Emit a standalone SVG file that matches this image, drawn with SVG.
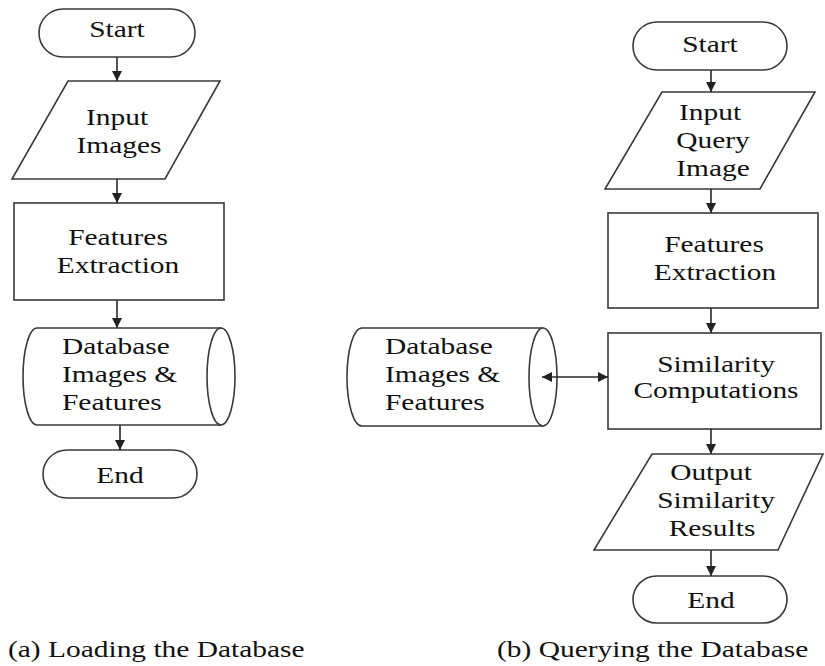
<svg xmlns="http://www.w3.org/2000/svg" width="825" height="666" viewBox="0 0 825 666">
<style>
.s{fill:#fff;stroke:#3a3a3a;stroke-width:1.6}
.c{fill:none;stroke:#2a2a2a;stroke-width:1.6}
text{font-family:"Liberation Serif","Times New Roman",serif;font-size:23px;fill:#111}
.m{text-anchor:middle}
</style>
<defs>
<marker id="ah" markerUnits="userSpaceOnUse" markerWidth="10" markerHeight="10" refX="10" refY="5" orient="auto-start-reverse">
<path d="M0,0 L10,5 L0,10 z" fill="#222"/>
</marker>
</defs>
<rect width="825" height="666" fill="#fff"/>
<g id="a-start">
<rect class="s" x="39" y="9" width="156" height="48" rx="24"/>
<text class="m" transform="matrix(1.28,0,0,1,117,37)">Start</text>
</g>
<g id="a-input">
<polygon class="s" points="68,81 220,81 165,179 12,179"/>
<text class="m" transform="matrix(1.28,0,0,1,117,125)">Input</text>
<text class="m" transform="matrix(1.28,0,0,1,119,153)">Images</text>
</g>
<g id="a-features">
<rect class="s" x="14" y="203" width="210" height="97"/>
<text class="m" transform="matrix(1.28,0,0,1,118,245)">Features</text>
<text class="m" transform="matrix(1.28,0,0,1,118,273)">Extraction</text>
</g>
<g id="a-database">
<path class="s" d="M37,328 H221 A14,48.5 0 0 1 221,425 H37 A14,48.5 0 0 1 37,328 Z"/>
<path class="s" fill="none" d="M221,328 A14,48.5 0 0 0 221,425"/>
<text transform="matrix(1.28,0,0,1,62,354)">Database</text>
<text transform="matrix(1.28,0,0,1,62,382)">Images &amp;</text>
<text transform="matrix(1.28,0,0,1,62,410)">Features</text>
</g>
<g id="a-end">
<rect class="s" x="43" y="450" width="154" height="48" rx="24"/>
<text class="m" transform="matrix(1.28,0,0,1,120,483)">End</text>
</g>
<g id="b-start">
<rect class="s" x="633" y="22" width="154" height="48" rx="24"/>
<text class="m" transform="matrix(1.28,0,0,1,710,52)">Start</text>
</g>
<g id="b-input">
<polygon class="s" points="662,92 815,92 760,189 605,189"/>
<text class="m" transform="matrix(1.28,0,0,1,710,120)">Input</text>
<text class="m" transform="matrix(1.28,0,0,1,713,148)">Query</text>
<text class="m" transform="matrix(1.28,0,0,1,713,176)">Image</text>
</g>
<g id="b-features">
<rect class="s" x="608" y="213" width="210" height="95"/>
<text class="m" transform="matrix(1.28,0,0,1,714,252)">Features</text>
<text class="m" transform="matrix(1.28,0,0,1,715,280)">Extraction</text>
</g>
<g id="b-similarity">
<rect class="s" x="608" y="333" width="213" height="96"/>
<text class="m" transform="matrix(1.28,0,0,1,716,372)">Similarity</text>
<text class="m" transform="matrix(1.28,0,0,1,716,398)">Computations</text>
</g>
<g id="b-database">
<path class="s" d="M362,328 H543 A14,49 0 0 1 543,426 H362 A15,49 0 0 1 362,328 Z"/>
<path class="s" fill="none" d="M543,328 A14,49 0 0 0 543,426"/>
<text transform="matrix(1.28,0,0,1,385,354)">Database</text>
<text transform="matrix(1.28,0,0,1,385,382)">Images &amp;</text>
<text transform="matrix(1.28,0,0,1,385,410)">Features</text>
</g>
<g id="b-output">
<polygon class="s" points="652,454 823,454 778,550 594,550"/>
<text class="m" transform="matrix(1.28,0,0,1,711,480)">Output</text>
<text class="m" transform="matrix(1.28,0,0,1,716,508)">Similarity</text>
<text class="m" transform="matrix(1.28,0,0,1,712,536)">Results</text>
</g>
<g id="b-end">
<rect class="s" x="633" y="576" width="154" height="47" rx="23.5"/>
<text class="m" transform="matrix(1.28,0,0,1,711,608)">End</text>
</g>
<g id="captions">
<text transform="matrix(1.28,0,0,1,8,657)">(a) Loading the Database</text>
<text transform="matrix(1.28,0,0,1,497,657)">(b) Querying the Database</text>
</g>
<g id="connectors">
<line class="c" x1="117" y1="57" x2="117" y2="81" marker-end="url(#ah)"/>
<line class="c" x1="117" y1="179" x2="117" y2="203" marker-end="url(#ah)"/>
<line class="c" x1="117" y1="300" x2="117" y2="328" marker-end="url(#ah)"/>
<line class="c" x1="120" y1="425" x2="120" y2="450" marker-end="url(#ah)"/>
<line class="c" x1="711" y1="70" x2="711" y2="92" marker-end="url(#ah)"/>
<line class="c" x1="711" y1="189" x2="711" y2="213" marker-end="url(#ah)"/>
<line class="c" x1="711" y1="308" x2="711" y2="333" marker-end="url(#ah)"/>
<line class="c" x1="711" y1="429" x2="711" y2="454" marker-end="url(#ah)"/>
<line class="c" x1="711" y1="550" x2="711" y2="576" marker-end="url(#ah)"/>
<line class="c" x1="542" y1="377" x2="608" y2="377" marker-start="url(#ah)" marker-end="url(#ah)"/>
</g>
</svg>
